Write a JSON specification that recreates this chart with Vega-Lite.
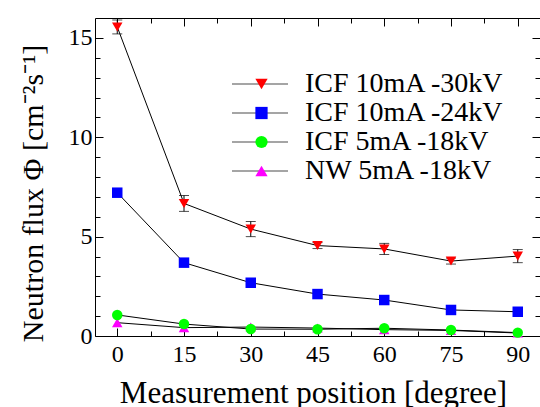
{
  "$schema": "https://vega.github.io/schema/vega-lite/v6.json",
  "width": 445,
  "height": 318,
  "autosize": {"type": "none"},
  "padding": {"left": 95, "top": 18, "right": 0, "bottom": 71},
  "background": "white",
  "config": {
    "view": {"stroke": "black", "strokeWidth": 1},
    "font": "Liberation Serif",
    "axis": {"grid": false, "domain": false, "tickColor": "black", "tickWidth": 1, "labelColor": "black", "titleColor": "black", "labelFont": "Liberation Serif", "titleFont": "Liberation Serif", "titleFontWeight": "normal"}
  },
  "data": {
    "values": [
      {"series": "NW 5mA -18kV", "angle": 0, "flux": 0.67},
      {"series": "NW 5mA -18kV", "angle": 15, "flux": 0.42},
      {"series": "NW 5mA -18kV", "angle": 30, "flux": 0.45},
      {"series": "NW 5mA -18kV", "angle": 45, "flux": 0.4},
      {"series": "NW 5mA -18kV", "angle": 60, "flux": 0.32},
      {"series": "NW 5mA -18kV", "angle": 75, "flux": 0.28},
      {"series": "NW 5mA -18kV", "angle": 90, "flux": 0.15},
      {"series": "ICF 5mA -18kV", "angle": 0, "flux": 1.06},
      {"series": "ICF 5mA -18kV", "angle": 15, "flux": 0.6},
      {"series": "ICF 5mA -18kV", "angle": 30, "flux": 0.35},
      {"series": "ICF 5mA -18kV", "angle": 45, "flux": 0.34},
      {"series": "ICF 5mA -18kV", "angle": 60, "flux": 0.39},
      {"series": "ICF 5mA -18kV", "angle": 75, "flux": 0.3},
      {"series": "ICF 5mA -18kV", "angle": 90, "flux": 0.17},
      {"series": "ICF 10mA -24kV", "angle": 0, "flux": 7.21},
      {"series": "ICF 10mA -24kV", "angle": 15, "flux": 3.69},
      {"series": "ICF 10mA -24kV", "angle": 30, "flux": 2.68},
      {"series": "ICF 10mA -24kV", "angle": 45, "flux": 2.11},
      {"series": "ICF 10mA -24kV", "angle": 60, "flux": 1.81},
      {"series": "ICF 10mA -24kV", "angle": 75, "flux": 1.31},
      {"series": "ICF 10mA -24kV", "angle": 90, "flux": 1.22},
      {"series": "ICF 10mA -30kV", "angle": 0, "flux": 15.55, "lo": 15.2, "hi": 15.9},
      {"series": "ICF 10mA -30kV", "angle": 15, "flux": 6.67, "lo": 6.27, "hi": 7.07},
      {"series": "ICF 10mA -30kV", "angle": 30, "flux": 5.38, "lo": 5.0, "hi": 5.76},
      {"series": "ICF 10mA -30kV", "angle": 45, "flux": 4.55, "lo": 4.4, "hi": 4.7},
      {"series": "ICF 10mA -30kV", "angle": 60, "flux": 4.38, "lo": 4.1, "hi": 4.66},
      {"series": "ICF 10mA -30kV", "angle": 75, "flux": 3.77, "lo": 3.62, "hi": 3.92},
      {"series": "ICF 10mA -30kV", "angle": 90, "flux": 4.02, "lo": 3.69, "hi": 4.35}
    ]
  },
  "resolve": {
    "scale": {"shape": "independent", "color": "independent"},
    "axis": {"x": "independent", "y": "independent"},
    "legend": {"shape": "independent", "color": "independent"}
  },
  "layer": [
    {
      "mark": {"type": "line", "color": "black", "strokeWidth": 1},
      "encoding": {
        "x": {"field": "angle", "type": "quantitative", "scale": {"domain": [-5, 95], "nice": false, "zero": false},
          "axis": {"orient": "bottom", "values": [0, 7.5, 15, 22.5, 30, 37.5, 45, 52.5, 60, 67.5, 75, 82.5, 90],
            "tickSize": {"condition": {"test": "datum.value % 15 === 0", "value": -8}, "value": -5},
            "labelExpr": "datum.value % 15 === 0 ? datum.label : ''",
            "labelFontSize": 24, "labelPadding": 14, "labelBaseline": "top", "labelFlush": false,
            "title": "Measurement position [degree]", "titleFontSize": 31, "titleX": 218, "titleY": 66, "titleAlign": "center", "titleBaseline": "alphabetic"}},
        "y": {"field": "flux", "type": "quantitative", "scale": {"domain": [0, 16], "nice": false},
          "axis": {"orient": "left", "values": [0, 1, 2, 3, 4, 5, 6, 7, 8, 9, 10, 11, 12, 13, 14, 15],
            "tickSize": {"condition": {"test": "datum.value % 5 === 0", "value": -8}, "value": -5},
            "labelExpr": "datum.value % 5 === 0 ? datum.label : ''",
            "labelFontSize": 24, "labelPadding": 11, "labelBaseline": "middle", "labelFlush": false,
            "title": "Neutron flux  Φ  [cm⁻²s⁻¹]", "titleFontSize": 30, "titleX": -53, "titleY": 175, "titleAngle": -90, "titleAlign": "center", "titleBaseline": "alphabetic"}},
        "detail": {"field": "series", "type": "nominal"}
      }
    },
    {
      "transform": [{"filter": "isValid(datum.lo)"}],
      "mark": {"type": "errorbar", "color": "black", "ticks": {"size": 10}, "thickness": 1},
      "encoding": {
        "x": {"field": "angle", "type": "quantitative", "scale": {"domain": [-5, 95], "nice": false, "zero": false}, "axis": null},
        "y": {"field": "lo", "type": "quantitative", "scale": {"domain": [0, 16], "nice": false}, "axis": null},
        "y2": {"field": "hi"}
      }
    },
    {
      "mark": {"type": "point", "filled": true, "opacity": 1, "size": 110},
      "encoding": {
        "x": {"field": "angle", "type": "quantitative", "scale": {"domain": [-5, 95], "nice": false, "zero": false},
          "axis": {"orient": "top", "values": [0, 7.5, 15, 22.5, 30, 37.5, 45, 52.5, 60, 67.5, 75, 82.5, 90],
            "tickSize": {"condition": {"test": "datum.value % 15 === 0", "value": -8}, "value": -5},
            "labels": false, "title": null}},
        "y": {"field": "flux", "type": "quantitative", "scale": {"domain": [0, 16], "nice": false},
          "axis": {"orient": "right", "values": [0, 1, 2, 3, 4, 5, 6, 7, 8, 9, 10, 11, 12, 13, 14, 15],
            "tickSize": {"condition": {"test": "datum.value % 5 === 0", "value": -8}, "value": -5},
            "labels": false, "title": null}},
        "shape": {"field": "series", "type": "nominal", "legend": null,
          "scale": {"domain": ["ICF 10mA -30kV", "ICF 10mA -24kV", "ICF 5mA -18kV", "NW 5mA -18kV"], "range": ["triangle-down", "square", "circle", "triangle-up"]}},
        "color": {"field": "series", "type": "nominal", "legend": null,
          "scale": {"domain": ["ICF 10mA -30kV", "ICF 10mA -24kV", "ICF 5mA -18kV", "NW 5mA -18kV"], "range": ["#ff0000", "#0000ff", "#00ff00", "#ff00ff"]}}
      }
    },
    {
      "transform": [{"filter": "false"}],
      "mark": {"type": "point", "filled": false, "color": "black", "strokeWidth": 1},
      "encoding": {
        "shape": {"field": "series", "type": "nominal",
          "scale": {"domain": ["ICF 10mA -30kV", "ICF 10mA -24kV", "ICF 5mA -18kV", "NW 5mA -18kV"], "range": ["M-4,0H4", "M-4,0H4", "M-4,0H4", "M-4,0H4"]},
          "legend": {"orient": "none", "legendX": 151, "legendY": 52, "title": null, "padding": 0, "rowPadding": 1,
            "symbolSize": 196, "symbolStrokeWidth": 1, "symbolStrokeColor": "black", "labelOffset": 31,
            "labelFontSize": 28, "labelFont": "Liberation Serif", "labelColor": "black", "labelLimit": 400}}
      }
    },
    {
      "transform": [{"filter": "false"}],
      "mark": {"type": "point", "filled": true, "opacity": 1},
      "encoding": {
        "shape": {"field": "series", "type": "nominal",
          "scale": {"domain": ["ICF 10mA -30kV", "ICF 10mA -24kV", "ICF 5mA -18kV", "NW 5mA -18kV"], "range": ["triangle-down", "square", "circle", "triangle-up"]},
          "legend": {"orient": "none", "legendX": 152.5, "legendY": 52, "title": null, "padding": 0, "rowPadding": 1,
            "symbolSize": 150, "labelOffset": 31, "labelFontSize": 28, "labelFont": "Liberation Serif", "labelOpacity": 0, "labelLimit": 400}},
        "color": {"field": "series", "type": "nominal",
          "scale": {"domain": ["ICF 10mA -30kV", "ICF 10mA -24kV", "ICF 5mA -18kV", "NW 5mA -18kV"], "range": ["#ff0000", "#0000ff", "#00ff00", "#ff00ff"]},
          "legend": {"orient": "none", "legendX": 152.5, "legendY": 52, "title": null, "padding": 0, "rowPadding": 1,
            "symbolSize": 150, "labelOffset": 31, "labelFontSize": 28, "labelFont": "Liberation Serif", "labelOpacity": 0, "labelLimit": 400}}
      }
    }
  ]
}
